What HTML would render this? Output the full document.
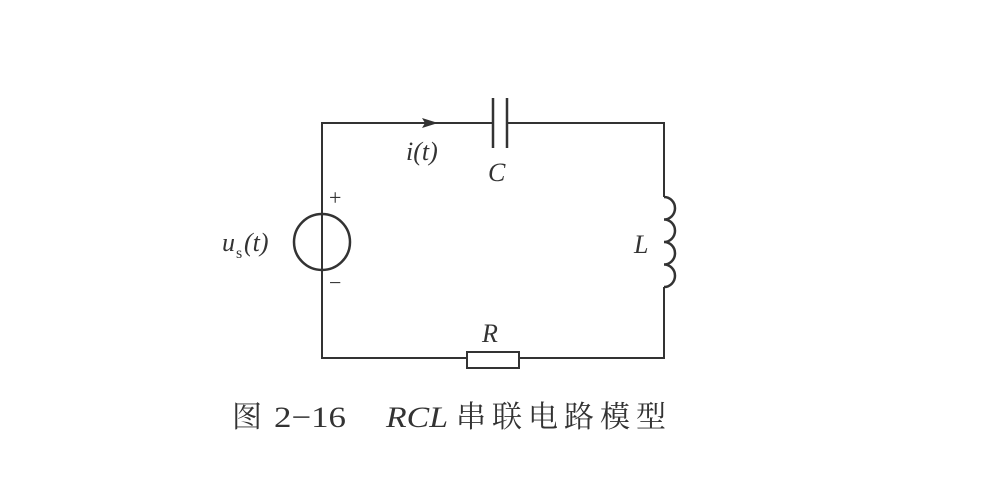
<!DOCTYPE html>
<html><head><meta charset="utf-8"><style>
html,body{margin:0;padding:0;background:#fff;}
svg{display:block;}
text{fill:#333;}
</style></head><body>
<svg width="1006" height="482" viewBox="0 0 1006 482" xmlns="http://www.w3.org/2000/svg">
<g stroke="#333" stroke-width="2" fill="none">
<path d="M493 123 H322 V358 H467 M519 358 H664 V287 M664 197 V123 H507"/>
<line x1="493" y1="98" x2="493" y2="148" stroke-width="2.5"/>
<line x1="507" y1="98" x2="507" y2="148" stroke-width="2.5"/>
<circle cx="322" cy="242" r="28" stroke-width="2.5"/>
<rect x="467" y="352" width="52" height="16"/>
<path d="M664 197 a11 11.25 0 0 1 0 22.5 a11 11.25 0 0 1 0 22.5 a11 11.25 0 0 1 0 22.5 a11 11.25 0 0 1 0 22.5" stroke-width="2.5"/>
</g>
<polygon points="438,123 422,118 425,123 422,128" fill="#333"/>
<g font-family="Liberation Serif, serif" font-style="italic" font-size="26">
<text x="406" y="160">i(t)</text>
<text x="488" y="181">C</text>
<text x="634" y="253">L</text>
<text x="482" y="342">R</text>
<text x="222" y="251">u</text>
<text x="236" y="258" font-size="16" font-style="normal">s</text>
<text x="244" y="251">(t)</text>
</g>
<g font-family="Liberation Serif, serif" font-size="22">
<text x="329" y="205">+</text>
<text x="329" y="290">−</text>
</g>
<g font-family="Liberation Serif, 'Noto Serif CJK SC', serif" font-size="30" fill="#444">
<text x="232" y="427" fill="#444">图</text>
<text x="274" y="427" fill="#444" textLength="72" lengthAdjust="spacingAndGlyphs">2−16</text>
<text x="386" y="427" font-style="italic" fill="#444" textLength="62" lengthAdjust="spacingAndGlyphs">RCL</text>
<text x="456" y="427" letter-spacing="6" fill="#444">串联电路模型</text>
</g>
</svg>
</body></html>
